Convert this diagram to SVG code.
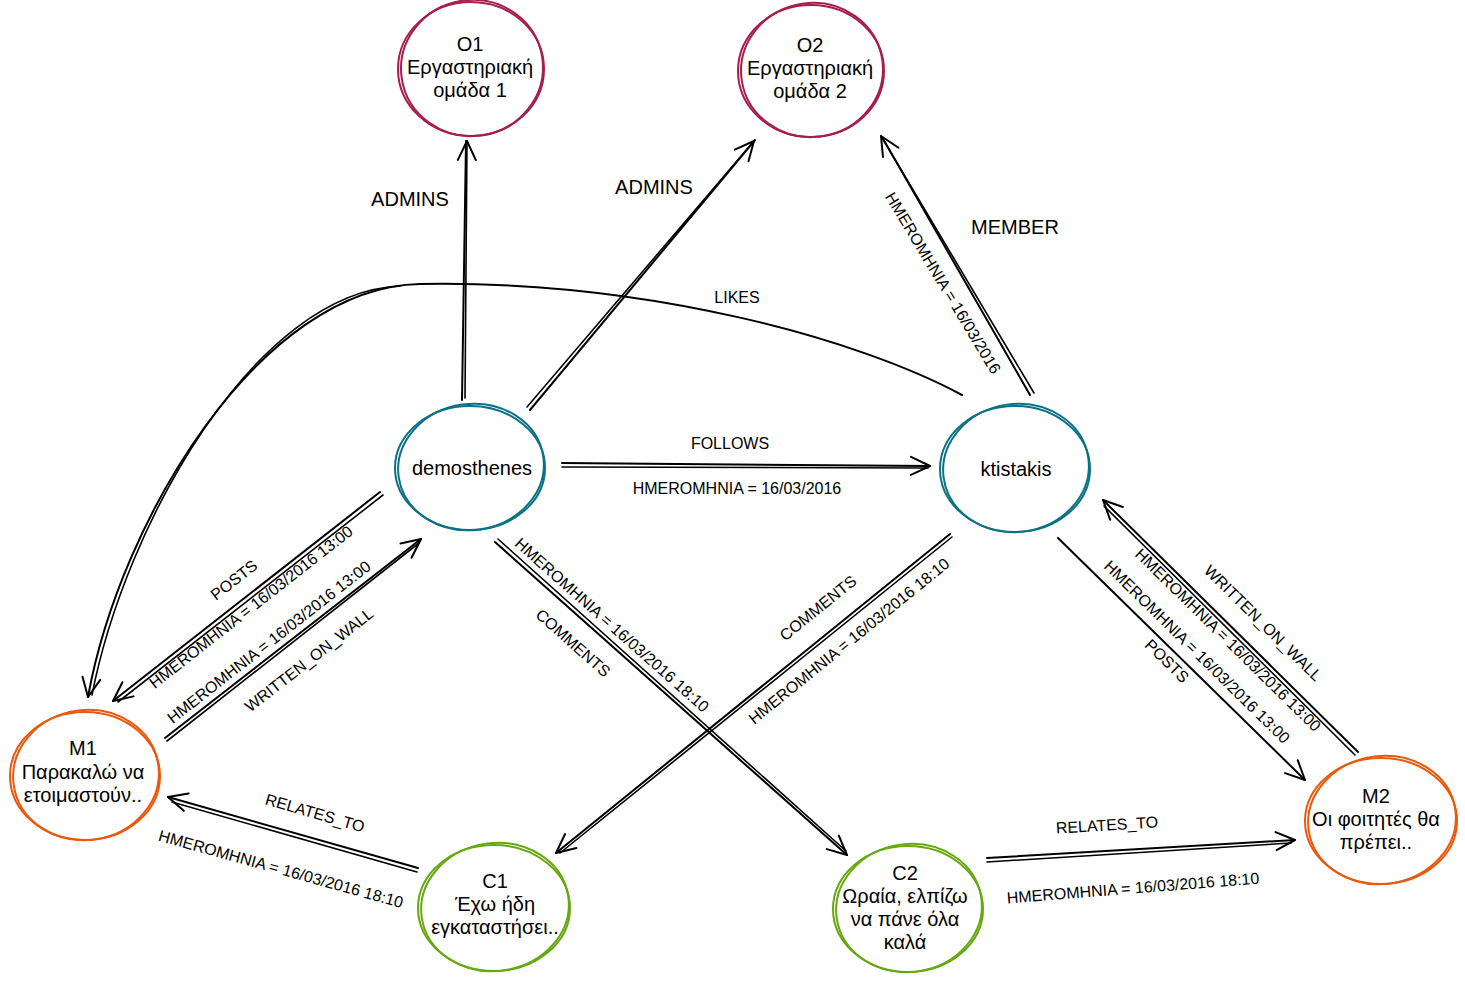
<svg xmlns="http://www.w3.org/2000/svg" width="1465" height="987" viewBox="0 0 1465 987">
<defs>
<marker id="arr" viewBox="0 0 22 22" refX="21" refY="11" markerWidth="22" markerHeight="22" markerUnits="userSpaceOnUse" orient="auto">
<path d="M2,2 L21,11 L2,20" fill="none" stroke="#000" stroke-width="2" stroke-linecap="round" stroke-linejoin="round"/>
</marker>
<style>
.e{fill:none;stroke:#000;stroke-width:2;stroke-linecap:round}
.e2{fill:none;stroke:#000;stroke-width:1.6;stroke-linecap:round}
.nt{font-family:"Liberation Sans",Arial,sans-serif;font-size:20px;fill:#000;text-anchor:middle}
.lb{font-family:"Liberation Sans",Arial,sans-serif;font-size:16px;fill:#000;text-anchor:middle;dominant-baseline:central}
.lbb{font-family:"Liberation Sans",Arial,sans-serif;font-size:20px;fill:#000;text-anchor:middle;dominant-baseline:central}
.org{fill:none;stroke:#a61e4d;stroke-width:2}
.usr{fill:none;stroke:#0b7285;stroke-width:2}
.msg{fill:none;stroke:#e8590c;stroke-width:2}
.cmt{fill:none;stroke:#66a80f;stroke-width:2}
</style>
</defs>
<rect width="1465" height="987" fill="#fff"/>

<g id="connectors">
<!-- ADMINS O1 -->
<path class="e" d="M462,400 L466,141"/>
<path class="e2" d="M465,398 L467,141" marker-end="url(#arr)"/>
<text class="lbb" x="410" y="199">ADMINS</text>
<!-- ADMINS O2 -->
<path class="e" d="M530,410 L755,140"/>
<path class="e2" d="M527,407 L754,141" marker-end="url(#arr)"/>
<text class="lbb" x="654" y="187">ADMINS</text>
<!-- MEMBER -->
<path class="e" d="M1030,395 L882,137"/>
<path class="e2" d="M1034,393 L881,136" marker-end="url(#arr)"/>
<text class="lbb" x="1015" y="227">MEMBER</text>
<text class="lb" x="943" y="283" transform="rotate(59 943 283)">HMEROMHNIA = 16/03/2016</text>
<!-- LIKES -->
<path class="e" d="M962,395 C860,340 650,280 420,284 C260,287 120,520 88,697" marker-end="url(#arr)"/>
<path class="e2" d="M400,286 C255,292 125,525 92,695"/>
<text class="lb" x="737" y="297">LIKES</text>
<!-- FOLLOWS -->
<path class="e" d="M562,463 L930,466" marker-end="url(#arr)"/>
<path class="e2" d="M562,467 L928,468"/>
<text class="lb" x="730" y="443">FOLLOWS</text>
<text class="lb" x="737" y="488">HMEROMHNIA = 16/03/2016</text>
<!-- POSTS demos -> M1 -->
<path class="e" d="M380,492 L113,701" marker-end="url(#arr)"/>
<path class="e2" d="M383,495 L118,702"/>
<text class="lb" x="234" y="580" transform="rotate(-38 234 580)">POSTS</text>
<text class="lb" x="251" y="607" transform="rotate(-38 251 607)">HMEROMHNIA = 16/03/2016 13:00</text>
<!-- WRITTEN_ON_WALL M1 -> demos -->
<path class="e" d="M165,738 L421,539" marker-end="url(#arr)"/>
<path class="e2" d="M167,741 L419,543"/>
<text class="lb" x="269" y="642" transform="rotate(-38 269 642)">HMEROMHNIA = 16/03/2016 13:00</text>
<text class="lb" x="309" y="660" transform="rotate(-38 309 660)">WRITTEN_ON_WALL</text>
<!-- COMMENTS demos -> C2 -->
<path class="e" d="M495,542 L847,855" marker-end="url(#arr)"/>
<path class="e2" d="M498,539 L846,851"/>
<text class="lb" x="612" y="625" transform="rotate(41.6 612 625)">HMEROMHNIA = 16/03/2016 18:10</text>
<text class="lb" x="573" y="643" transform="rotate(41.6 573 643)">COMMENTS</text>
<!-- COMMENTS kt -> C1 -->
<path class="e" d="M950,534 L556,853" marker-end="url(#arr)"/>
<path class="e2" d="M952,537 L560,853"/>
<text class="lb" x="818" y="608" transform="rotate(-39 818 608)">COMMENTS</text>
<text class="lb" x="849" y="641" transform="rotate(-39 849 641)">HMEROMHNIA = 16/03/2016 18:10</text>
<!-- POSTS kt -> M2 -->
<path class="e" d="M1058,538 L1305,780" marker-end="url(#arr)"/>
<text class="lb" x="1197" y="652" transform="rotate(44.5 1197 652)">HMEROMHNIA = 16/03/2016 13:00</text>
<text class="lb" x="1167" y="661" transform="rotate(44.5 1167 661)">POSTS</text>
<!-- WRITTEN_ON_WALL M2 -> kt -->
<path class="e" d="M1358,752 L1103,500" marker-end="url(#arr)"/>
<path class="e2" d="M1355,755 L1104,506"/>
<text class="lb" x="1228" y="640" transform="rotate(44.5 1228 640)">HMEROMHNIA = 16/03/2016 13:00</text>
<text class="lb" x="1263" y="623" transform="rotate(44.5 1263 623)">WRITTEN_ON_WALL</text>
<!-- RELATES_TO C1 -> M1 -->
<path class="e" d="M418,868 L168,797" marker-end="url(#arr)"/>
<path class="e2" d="M417,872 L172,802"/>
<text class="lb" x="315" y="813" transform="rotate(16 315 813)">RELATES_TO</text>
<text class="lb" x="281" y="869" transform="rotate(15.5 281 869)">HMEROMHNIA = 16/03/2016 18:10</text>
<!-- RELATES_TO C2 -> M2 -->
<path class="e" d="M987,858 L1295,840" marker-end="url(#arr)"/>
<path class="e2" d="M987,862 L1291,843"/>
<text class="lb" x="1107" y="825" transform="rotate(-3.5 1107 825)">RELATES_TO</text>
<text class="lb" x="1133" y="888" transform="rotate(-4.5 1133 888)">HMEROMHNIA = 16/03/2016 18:10</text>
</g>

<g id="O1">
<ellipse class="org" cx="471" cy="69" rx="73" ry="67"/>
<ellipse class="org" cx="472" cy="68" rx="71" ry="68" transform="rotate(-8 472 68)"/>
<text class="nt" x="470" y="51">O1</text>
<text class="nt" x="470" y="74">Εργαστηριακή</text>
<text class="nt" x="470" y="97">ομάδα 1</text>
</g>
<g id="O2">
<ellipse class="org" cx="811" cy="71" rx="73" ry="66"/>
<ellipse class="org" cx="812" cy="70" rx="71" ry="67" transform="rotate(-8 812 70)"/>
<text class="nt" x="810" y="52">O2</text>
<text class="nt" x="810" y="75">Εργαστηριακή</text>
<text class="nt" x="810" y="98">ομάδα 2</text>
</g>
<g id="demosthenes">
<ellipse class="usr" cx="470" cy="468" rx="75" ry="62"/>
<ellipse class="usr" cx="471" cy="467" rx="73" ry="63" transform="rotate(-8 471 467)"/>
<text class="nt" x="472" y="475">demosthenes</text>
</g>
<g id="ktistakis">
<ellipse class="usr" cx="1015" cy="469" rx="75" ry="63"/>
<ellipse class="usr" cx="1016" cy="468" rx="73" ry="64" transform="rotate(-8 1016 468)"/>
<text class="nt" x="1016" y="476">ktistakis</text>
</g>
<g id="M1">
<ellipse class="msg" cx="85" cy="776" rx="75" ry="64"/>
<ellipse class="msg" cx="86" cy="775" rx="73" ry="65" transform="rotate(-8 86 775)"/>
<text class="nt" x="83" y="755">M1</text>
<text class="nt" x="83" y="779">Παρακαλώ να</text>
<text class="nt" x="83" y="802">ετοιμαστούν..</text>
</g>
<g id="M2">
<ellipse class="msg" cx="1381" cy="821" rx="76" ry="63"/>
<ellipse class="msg" cx="1382" cy="820" rx="74" ry="64" transform="rotate(-8 1382 820)"/>
<text class="nt" x="1376" y="803">M2</text>
<text class="nt" x="1376" y="826">Οι φοιτητές θα</text>
<text class="nt" x="1376" y="849">πρέπει..</text>
</g>
<g id="C1">
<ellipse class="cmt" cx="494" cy="908" rx="76" ry="63"/>
<ellipse class="cmt" cx="495" cy="907" rx="74" ry="64" transform="rotate(-8 495 907)"/>
<text class="nt" x="495" y="888">C1</text>
<text class="nt" x="495" y="911">Έχω ήδη</text>
<text class="nt" x="495" y="934">εγκαταστήσει..</text>
</g>
<g id="C2">
<ellipse class="cmt" cx="908" cy="909" rx="75" ry="63"/>
<ellipse class="cmt" cx="909" cy="908" rx="73" ry="64" transform="rotate(-8 909 908)"/>
<text class="nt" x="905" y="880">C2</text>
<text class="nt" x="905" y="903">Ωραία, ελπίζω</text>
<text class="nt" x="905" y="926">να πάνε όλα</text>
<text class="nt" x="905" y="949">καλά</text>
</g>
</svg>
